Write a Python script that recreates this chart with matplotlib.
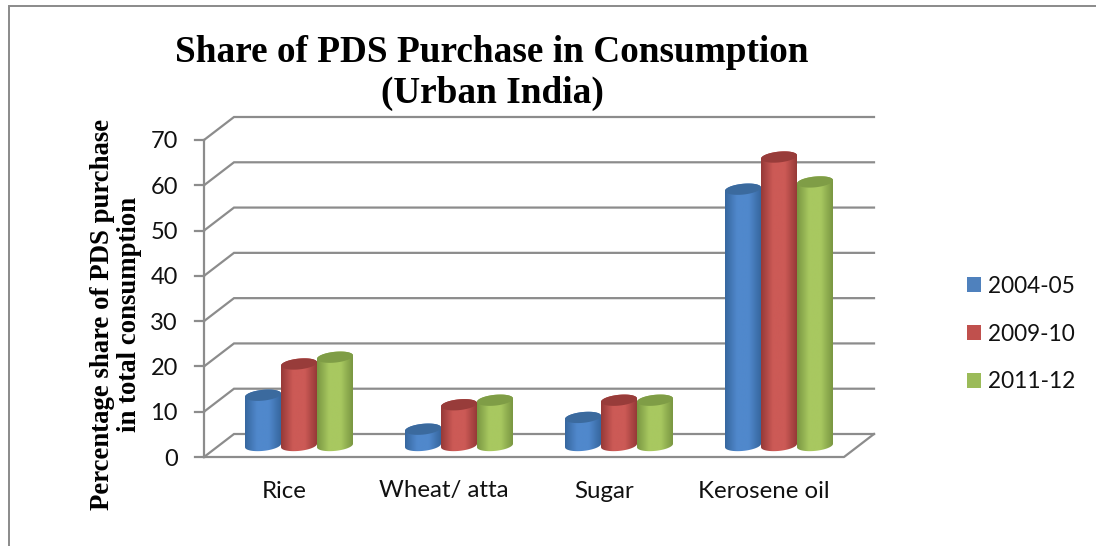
import numpy as np
import matplotlib
matplotlib.use('Agg')
import matplotlib.pyplot as plt
from matplotlib.colors import LinearSegmentedColormap
from matplotlib.lines import Line2D
from matplotlib.patches import Patch, PathPatch, Polygon
from matplotlib.path import Path

W, H = 1096, 546

categories = ['Rice', 'Wheat/ atta', 'Sugar', 'Kerosene oil']
years = ['2004-05', '2009-10', '2011-12']
share_2004 = [11.1, 3.6, 6.2, 56.6]
share_2009 = [18.0, 9.0, 10.0, 63.7]
share_2011 = [19.5, 10.0, 10.0, 58.2]
y_ticks = [0, 10, 20, 30, 40, 50, 60, 70]

legend_colors = ['#4f81bd', '#c0504d', '#9bbb59']
# edge of the cylinder, middle of the cylinder, top cap
shades = [('#37679f', '#5088cc', '#3b6a9e'),
          ('#963a38', '#cc5a56', '#983c3a'),
          ('#7a9742', '#a8c860', '#7f9d46')]

fig = plt.figure(figsize=(W / 100, H / 100), dpi=100)

# outer chart frame, only the top and left sides show
fig.add_artist(Line2D([9 / W, 9 / W, 1], [0, 1 - 6 / H, 1 - 6 / H], transform=fig.transFigure,
                      color='#8a8a8a', lw=1.4, solid_joinstyle='miter'))

# axes is the front plane of the 3d box
ax = fig.add_axes([204 / W, 1 - 457 / H, 640 / W, 317 / H])
ax.set_xlim(-0.5, 3.5)
ax.set_ylim(0, 70)
ax.axis('off')

px_x = 4 / 640        # one pixel in x units
px_y = 70 / 317       # one pixel in y units
depth_x = 30 * px_x
depth_y = 23 * px_y
grid_color = '#8c8c8c'

for t in y_ticks:
    ax.plot([-0.5, -0.5 + depth_x, 3.5 + depth_x], [t, t + depth_y, t + depth_y],
            color=grid_color, lw=1.6, clip_on=False, solid_joinstyle='miter')
    ax.plot([-0.5 - 9 * px_x, -0.5], [t, t], color=grid_color, lw=1.6, clip_on=False)
    ax.text(-0.5 - 26 * px_x, t - 2 * px_y, str(t), ha='right', va='center', fontsize=17,
            family='Lato', color='#111111')
ax.plot([-0.5, -0.5], [0, 70], color=grid_color, lw=1.6, clip_on=False)
ax.plot([-0.5, 3.5, 3.5 + depth_x], [0, 0, depth_y], color=grid_color, lw=1.6, clip_on=False)

for i, c in enumerate(categories):
    ax.text(i, -34 * px_y, c, ha='center', va='center', fontsize=17.3,
            family='Lato', color='#111111', clip_on=False)


def cylinder(x, value, shade, zorder):
    half = 18 * px_x
    b = 5.4 * px_y
    tilt = 1.7 * px_y
    cx = x + depth_x / 2
    base = depth_y / 2
    top = base + value
    t = np.linspace(0, np.pi, 40)
    # body outline: bottom half of the lower ellipse, then back over the top ellipse
    xs = np.concatenate([cx + half * np.cos(t + np.pi), cx + half * np.cos(t)])
    ys = np.concatenate([base + b * np.sin(t + np.pi) + tilt * np.cos(t + np.pi),
                         top + b * np.sin(t) + tilt * np.cos(t)])
    cmap = LinearSegmentedColormap.from_list('cyl', [shade[0], shade[1], shade[1], shade[0]])
    grad = np.linspace(0, 1, 64).reshape(1, -1)
    im = ax.imshow(grad, cmap=cmap, extent=[cx - half, cx + half, base - 2 * b, top + 2 * b],
                   aspect='auto', zorder=zorder, interpolation='bilinear')
    clip = PathPatch(Path(np.column_stack([xs, ys]), closed=False), transform=ax.transData)
    im.set_clip_path(clip)
    im.set_clip_on(True)
    t2 = np.linspace(0, 2 * np.pi, 80)
    ax.add_patch(Polygon(np.column_stack([cx + half * np.cos(t2),
                                          top + b * np.sin(t2) + tilt * np.cos(t2)]),
                         closed=True, facecolor=shade[2], edgecolor='none',
                         zorder=zorder + 0.1, clip_on=False))


series = [share_2004, share_2009, share_2011]
step = 36 * px_x
for s, values in enumerate(series):
    for i, v in enumerate(values):
        cylinder(i + (s - 1) * step, v, shades[s], 3 + s)
ax.set_xlim(-0.5, 3.5)
ax.set_ylim(0, 70)

fig.text(492 / W, 1 - 73 / H, 'Share of PDS Purchase in Consumption\n(Urban India)',
         ha='center', va='center', fontsize=26.8, fontweight='bold', family='Liberation Serif',
         color='#000000', linespacing=1.19)
fig.text(116 / W, 1 - 314 / H, 'Percentage share of PDS purchase\nin total consumption',
         ha='center', va='center', rotation=90, fontsize=19.3, fontweight='bold',
         family='Liberation Serif', color='#000000', linespacing=1.15)

handles = [Patch(facecolor=c, edgecolor='none') for c in legend_colors]
fig.legend(handles, years, loc='center left', bbox_to_anchor=(967 / W, 1 - 334 / H),
           frameon=False, prop={'family': 'Lato', 'size': 16.3}, labelspacing=1.19,
           handlelength=0.64, handleheight=0.66, handletextpad=0.3, borderpad=0,
           borderaxespad=0, labelcolor='#111111')

fig.savefig('out.png', dpi=100)
